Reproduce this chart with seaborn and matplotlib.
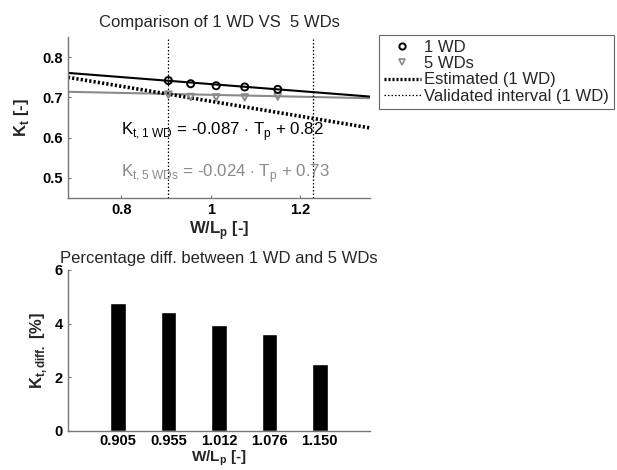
"""Comparison of 1 WD vs 5 WDs: fitted Kt lines and percentage difference bars."""

import matplotlib
matplotlib.use("Agg")
import matplotlib.pyplot as plt
from matplotlib.lines import Line2D
import pandas as pd
import seaborn as sns

# measured points
wl_points = [0.905, 0.955, 1.012, 1.076, 1.150]
kt_1wd = [0.742, 0.734, 0.729, 0.726, 0.720]
kt_5wd = [0.707, 0.701, 0.700, 0.700, 0.702]

# fitted / estimated lines, read at the ends of the x range
line_x = [0.68, 1.357]
fit_1wd = [0.761, 0.702]
fit_5wd = [0.714, 0.698]
estimated_1wd = [0.750, 0.624]

# validated interval (1 WD)
valid_lo = 0.905
valid_hi = 1.23

# percentage difference
bar_labels = ["0.905", "0.955", "1.012", "1.076", "1.150"]
pct_diff = [4.78, 4.44, 3.93, 3.60, 2.49]

GRAY = "#8a8a8a"


def configure_style() -> None:
    sns.set_style("ticks")
    plt.rcParams.update(
        {
            "font.family": ["Liberation Sans", "DejaVu Sans"],
            "font.size": 10,
            "mathtext.fontset": "custom",
            "mathtext.rm": "Liberation Sans",
            "mathtext.bf": "Liberation Sans:bold",
            "xtick.direction": "in",
            "ytick.direction": "in",
            "xtick.major.size": 2.5,
            "ytick.major.size": 2.5,
            "axes.edgecolor": "#777777",
            "axes.linewidth": 1.0,
            "xtick.color": "#777777",
            "ytick.color": "#777777",
            "xtick.labelcolor": "black",
            "ytick.labelcolor": "black",
        }
    )


def comparison_panel(ax) -> list:
    lines = pd.DataFrame({"x": line_x, "f1": fit_1wd, "f5": fit_5wd, "est": estimated_1wd})
    pts = pd.DataFrame({"x": wl_points, "k1": kt_1wd, "k5": kt_5wd})

    sns.lineplot(data=lines, x="x", y="f5", color=GRAY, linewidth=1.5, ax=ax)
    sns.lineplot(data=lines, x="x", y="f1", color="black", linewidth=1.5, ax=ax)
    sns.lineplot(data=lines, x="x", y="est", color="black", linewidth=2.6,
                 linestyle=(0, (0.6, 0.6)), ax=ax)
    for xv in (valid_lo, valid_hi):
        ax.axvline(xv, color="black", linewidth=0.9, linestyle=(0, (1.2, 1.6)))

    sns.scatterplot(data=pts, x="x", y="k5", marker="v", s=22, facecolor="none",
                    edgecolor=GRAY, linewidth=1.4, ax=ax, zorder=4)
    sns.scatterplot(data=pts, x="x", y="k1", marker="o", s=26, facecolor="none",
                    edgecolor="black", linewidth=1.4, ax=ax, zorder=5)

    ax.text(0.80, 0.607, r"K$_{\mathregular{t,1\ WD}}$ = -0.087 $\cdot$ T$_{\mathregular{p}}$ + 0.82",
            fontsize=12.2, color="black", va="baseline")
    ax.text(0.80, 0.503, r"K$_{\mathregular{t,5\ WDs}}$ = -0.024 $\cdot$ T$_{\mathregular{p}}$ + 0.73",
            fontsize=12.2, color=GRAY, va="baseline")

    ax.set_xlim(0.68, 1.357)
    ax.set_ylim(0.45, 0.85)
    ax.set_xticks([0.8, 1.0, 1.2], ["0.8", "1", "1.2"])
    ax.set_yticks([0.5, 0.6, 0.7, 0.8], ["0.5", "0.6", "0.7", "0.8"])
    ax.set_title("Comparison of 1 WD VS  5 WDs", fontsize=12, pad=7)
    ax.set_xlabel(r"W/L$_{\mathbf{p}}$ [-]", fontweight="bold", fontsize=12, labelpad=2)
    ax.set_ylabel(r"K$_{\mathbf{t}}$ [-]", fontweight="bold", fontsize=12, labelpad=8)

    handles = [
        Line2D([], [], linestyle="none", marker="o", markersize=4.5, markerfacecolor="none",
               markeredgecolor="black", markeredgewidth=1.4, label="1 WD"),
        Line2D([], [], linestyle="none", marker="v", markersize=4.5, markerfacecolor="none",
               markeredgecolor=GRAY, markeredgewidth=1.2, label="5 WDs"),
        Line2D([], [], color="black", linewidth=2.4, linestyle=(0, (0.6, 0.6)),
               label="Estimated (1 WD)"),
        Line2D([], [], color="black", linewidth=0.9, linestyle=(0, (1.2, 1.6)),
               label="Validated interval (1 WD)"),
    ]
    return handles


def difference_panel(ax) -> None:
    sns.barplot(x=bar_labels, y=pct_diff, color="black", width=0.31, ax=ax, saturation=1)
    ax.set_xlim(-1, 5)
    ax.set_ylim(0, 6)
    ax.set_yticks([0, 2, 4, 6])
    ax.tick_params(axis="x", pad=2)
    ax.set_title("Percentage diff. between 1 WD and 5 WDs", fontsize=12, pad=5)
    ax.set_xlabel(r"W/L$_{\mathbf{p}}$ [-]", fontweight="bold", fontsize=11, labelpad=0.5)
    ax.set_ylabel(r"K$_{\mathbf{t,diff.}}$ [%]", fontweight="bold", fontsize=12)


def main() -> None:
    configure_style()
    fig = plt.figure(figsize=(6.17, 4.70), dpi=100)
    fig.patch.set_facecolor("white")
    ax_top = fig.add_axes([0.110, 0.579, 0.490, 0.342])
    ax_bot = fig.add_axes([0.110, 0.083, 0.490, 0.343])

    handles = comparison_panel(ax_top)
    difference_panel(ax_bot)

    for ax in (ax_top, ax_bot):
        sns.despine(ax=ax)
        for lab in ax.get_xticklabels() + ax.get_yticklabels():
            lab.set_fontweight("bold")
            lab.set_fontsize(10.5)

    leg = fig.legend(
        handles=handles,
        loc="upper left",
        bbox_to_anchor=(0.614, 0.926),
        frameon=True,
        fancybox=False,
        framealpha=1,
        edgecolor="#666666",
        fontsize=12,
        handlelength=2.2,
        handletextpad=0.2,
        labelspacing=0.08,
        borderpad=0.3,
        borderaxespad=0,
    )
    leg.get_frame().set_linewidth(0.8)

    fig.savefig("out.png", dpi=100, facecolor="white")


if __name__ == "__main__":
    main()
